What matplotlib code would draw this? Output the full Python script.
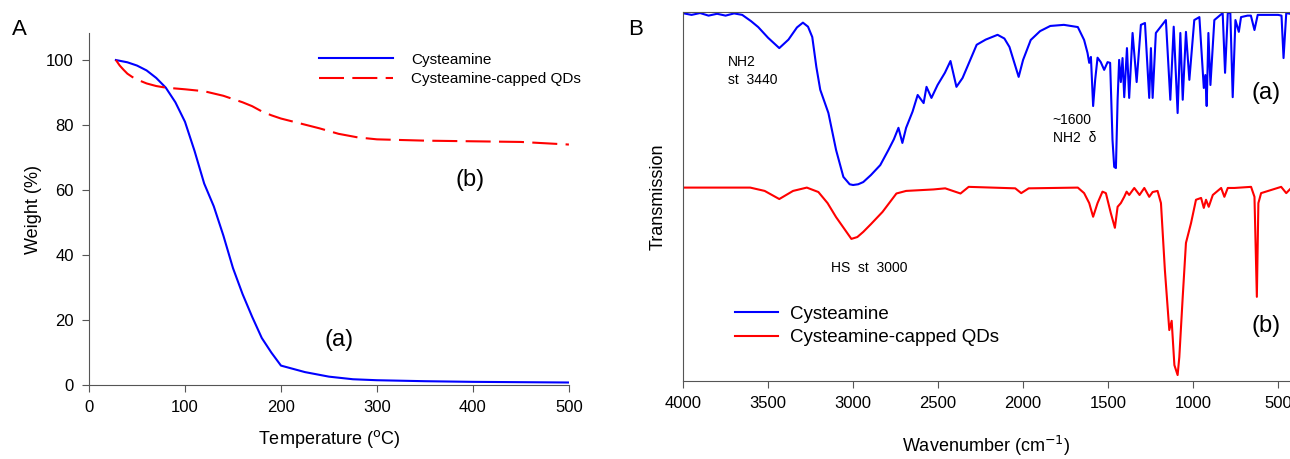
import numpy as np
import matplotlib
matplotlib.use('Agg')
import matplotlib.pyplot as plt

plt.rcParams['font.family'] = ['Liberation Sans', 'DejaVu Sans']

# TGA (panel A)
tga_temp_cys = [28, 40, 50, 60, 70, 80, 90, 100, 110, 120, 130, 140, 150, 160, 170,
                180, 190, 200, 210, 225, 250, 275, 300, 350, 400, 450, 500]
tga_wt_cys = [100, 99.3, 98.3, 96.8, 94.5, 91.5, 87, 81, 72, 62, 55, 46, 36, 28, 21,
              14.5, 10, 6, 5.2, 4.0, 2.6, 1.8, 1.5, 1.2, 1.0, 0.9, 0.8]
tga_temp_qd = [28, 32, 36, 40, 45, 50, 60, 70, 80, 100, 120, 140, 160, 170, 180, 190,
               200, 220, 240, 260, 280, 300, 350, 400, 450, 500]
tga_wt_qd = [100, 98.3, 97, 95.8, 94.8, 94, 92.8, 92, 91.5, 91, 90.4, 89, 87, 85.8,
             84.2, 83, 82, 80.5, 79, 77.3, 76.2, 75.6, 75.2, 75, 74.8, 74]

# FTIR (panel B), transmission in arbitrary %
ir_wn_cys = [3994, 3950, 3900, 3850, 3800, 3750, 3700, 3652, 3600, 3558, 3500, 3434,
             3380, 3330, 3295, 3265, 3240, 3216, 3193, 3145, 3100, 3057, 3020, 3000,
             2970, 2940, 2895, 2840, 2792, 2760, 2733, 2710, 2688, 2650, 2620, 2585,
             2568, 2539, 2503, 2460, 2427, 2392, 2356, 2320, 2273, 2220, 2150, 2110,
             2080, 2050, 2026, 2000, 1955, 1900, 1840, 1760, 1678, 1641, 1621, 1611,
             1601, 1588, 1576, 1562, 1543, 1523, 1503, 1488, 1474, 1464, 1454, 1444,
             1435, 1425, 1415, 1405, 1389, 1376, 1356, 1332, 1307, 1283, 1258, 1248,
             1238, 1219, 1160, 1134, 1114, 1091, 1075, 1061, 1042, 1022, 993, 963,
             937, 928, 920, 910, 898, 875, 826, 812, 796, 781, 767, 751, 731, 718,
             680, 660, 639, 620, 500, 480, 468, 452, 430]
ir_t_cys = [99.6, 99.2, 99.7, 99.0, 99.5, 99.0, 99.6, 99.2, 97.5, 95.9, 93.0, 90.2,
            92.5, 95.8, 97.1, 96.0, 93.2, 85.1, 78.9, 72.6, 62.6, 55.3, 53.3, 53.1,
            53.3, 53.9, 55.8, 58.5, 62.6, 65.5, 68.6, 64.5, 68.6, 73.0, 77.5, 75.3,
            79.7, 76.7, 80.2, 83.5, 86.7, 79.7, 82.1, 86.0, 91.1, 92.5, 93.8, 92.8,
            90.5, 86.0, 82.4, 87.0, 92.4, 94.8, 96.2, 96.5, 95.9, 92.4, 88.9, 86.2,
            87.8, 74.5, 81.6, 87.6, 86.4, 84.3, 86.4, 86.2, 65.3, 58.0, 57.7, 76.2,
            87.0, 81.0, 87.5, 76.9, 90.2, 76.7, 94.3, 81.0, 96.5, 97.0, 76.7, 90.2,
            76.7, 94.3, 97.8, 76.2, 96.0, 72.6, 94.3, 76.2, 94.6, 81.6, 97.8, 98.6,
            79.4, 82.9, 74.5, 94.3, 80.2, 97.8, 99.7, 83.5, 99.7, 99.7, 76.9, 97.8,
            94.6, 98.6, 99.0, 99.0, 95.1, 99.2, 99.2, 99.0, 87.5, 99.7, 99.5]

ir_wn_qd = [3994, 3605, 3520, 3434, 3353, 3272, 3204, 3150, 3100, 3010, 2975, 2940,
            2895, 2827, 2745, 2688, 2527, 2458, 2368, 2320, 2046, 2011, 1967, 1678,
            1641, 1611, 1588, 1562, 1533, 1513, 1484, 1460, 1444, 1425, 1405, 1391,
            1376, 1346, 1315, 1287, 1258, 1238, 1209, 1189, 1166, 1140, 1126, 1110,
            1091, 1081, 1061, 1042, 1012, 983, 953, 937, 924, 908, 884, 835, 816,
            796, 757, 659, 639, 625, 616, 600, 482, 452, 423]
ir_t_qd = [52.4, 52.4, 51.5, 49.3, 51.5, 52.4, 51.2, 48.2, 44.4, 38.5, 39.0, 40.4,
           42.5, 45.8, 50.8, 51.5, 51.9, 52.2, 50.8, 52.6, 52.2, 50.9, 52.2, 52.4,
           50.9, 48.2, 44.5, 48.2, 51.3, 50.9, 45.5, 41.5, 47.2, 48.2, 49.9, 51.3,
           50.4, 52.3, 50.4, 52.3, 49.9, 51.2, 51.5, 48.2, 30.1, 13.8, 16.3, 4.3,
           1.6, 6.5, 22.8, 37.4, 42.8, 49.1, 49.6, 46.9, 49.1, 47.2, 50.4, 52.3, 49.9,
           52.3, 52.3, 52.6, 49.9, 22.8, 48.2, 50.9, 52.6, 50.9, 52.3]

blue = '#0000ff'
red = '#ff0000'
spine_col = '#555555'

fig = plt.figure(figsize=(12.9, 4.59), dpi=100)

# ---- panel A
ax1 = fig.add_axes([0.069, 0.161, 0.372, 0.767])
ax1.plot(tga_temp_cys, tga_wt_cys, color=blue, lw=1.5, label='Cysteamine')
ax1.plot(tga_temp_qd, tga_wt_qd, color=red, lw=1.5, dashes=(12, 4),
         label='Cysteamine-capped QDs')
ax1.set_xlim(0, 500)
ax1.set_ylim(0, 108.3)
ax1.set_xticks(range(0, 501, 100))
ax1.set_yticks(range(0, 101, 20))
for s in ('top', 'right'):
    ax1.spines[s].set_visible(False)
for s in ('left', 'bottom'):
    ax1.spines[s].set_color(spine_col)
ax1.tick_params(direction='out', length=5, labelsize=12, color=spine_col, pad=6)
ax1.set_xlabel('Temperature ($^{\\rm o}$C)', fontsize=13, labelpad=9)
ax1.set_ylabel('Weight (%)', fontsize=13, labelpad=3)
ax1.legend(loc='upper left', bbox_to_anchor=(0.451, 0.983), frameon=False,
           fontsize=11, handlelength=4.8, handletextpad=1.2, labelspacing=0.35)
ax1.text(397, 63, '(b)', fontsize=17, ha='center', va='center')
ax1.text(261, 14, '(a)', fontsize=17, ha='center', va='center')
fig.text(0.009, 0.935, 'A', fontsize=16, va='center')

# ---- panel B
ax2 = fig.add_axes([0.5295, 0.170, 0.4705, 0.804])
ax2.plot(ir_wn_cys, ir_t_cys, color=blue, lw=1.5, label='Cysteamine')
ax2.plot(ir_wn_qd, ir_t_qd, color=red, lw=1.5, label='Cysteamine-capped QDs')
ax2.set_xlim(4000, 430)
ax2.set_ylim(0, 100)
ax2.set_xticks(range(4000, 499, -500))
ax2.set_yticks([])
ax2.spines['right'].set_visible(False)
for s in ('left', 'bottom', 'top'):
    ax2.spines[s].set_color(spine_col)
ax2.tick_params(axis='x', direction='out', length=5, labelsize=12,
                color=spine_col, pad=6)
ax2.set_xlabel('Wavenumber (cm$^{-1}$)', fontsize=13, labelpad=16.5)
ax2.set_ylabel('Transmission', fontsize=13, labelpad=12)
ax2.legend(loc='upper left', bbox_to_anchor=(0.058, 0.25), frameon=False,
           fontsize=13.5, handlelength=2.3, handletextpad=0.6, labelspacing=0.35)
ax2.text(3735, 84, 'NH2\nst  3440', fontsize=10, va='center', linespacing=1.3)
ax2.text(1825, 68.3, '~1600\nNH2  δ', fontsize=10, va='center',
         linespacing=1.3)
ax2.text(3130, 30.5, 'HS  st  3000', fontsize=10, va='center')
ax2.text(570, 78, '(a)', fontsize=17, ha='center', va='center')
ax2.text(570, 15, '(b)', fontsize=17, ha='center', va='center')
fig.text(0.487, 0.935, 'B', fontsize=16, va='center')

fig.savefig('out.png', dpi=100)
